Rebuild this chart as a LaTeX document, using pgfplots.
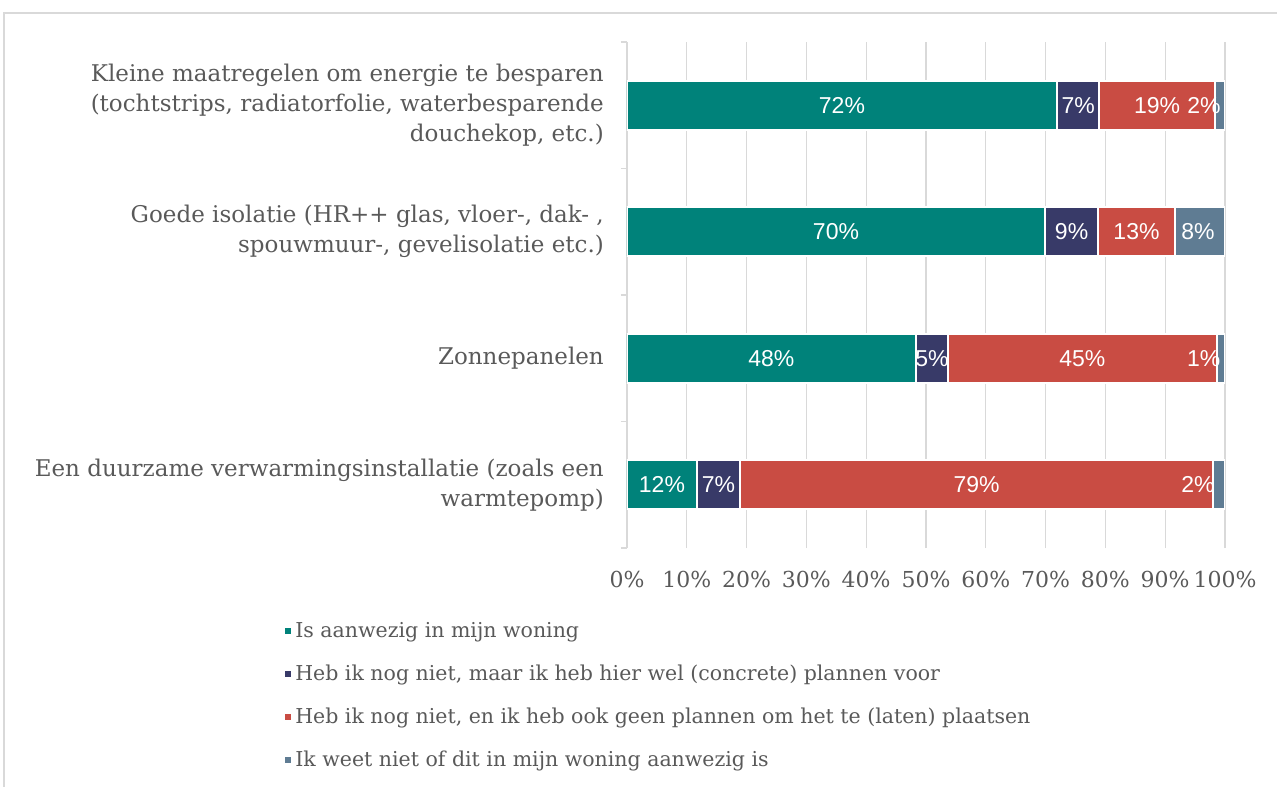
\documentclass[border=0pt]{standalone}
\usepackage{pgfplots}
\pgfplotsset{compat=1.18}
\usepackage{pgfplotstable}
\usepackage{fontspec}
\setmainfont{DejaVu Serif}
\newfontfamily\lblfont{Liberation Sans}
\definecolor{cA}{HTML}{00827A}
\definecolor{cB}{HTML}{383A68}
\definecolor{cC}{HTML}{C94C43}
\definecolor{cD}{HTML}{5F7C93}
\definecolor{txt}{HTML}{595959}
\definecolor{grd}{HTML}{D9D9D9}

\pgfplotstableread{
y a b c d sd
3 71.9 7.1 19.3 1.7 -16
2 69.9 8.9 12.8 8.4 -2
1 48.3 5.4 44.9 1.4 -17
0 11.7 7.2 79.1 2.0 -21
}\data

\begin{document}
\begin{tikzpicture}
\useasboundingbox (-627pt,-239pt) rectangle (650pt,548pt);
\begin{axis}[
  at={(0pt,0pt)}, anchor=south west,
  scale only axis, width=598pt, height=506pt,
  xbar stacked, bar width=49pt,
  xmin=0, xmax=100, ymin=-0.5, ymax=3.5,
  axis x line*=bottom, axis y line*=left,
  axis line style={-},
  x axis line style={draw=none},
  y axis line style={grd, line width=1.3pt},
  xmajorgrids=true,
  x grid style={grd, line width=1.3pt},
  xtick={0,10,...,100},
  xticklabel={\pgfmathprintnumber{\tick}\%},
  /pgf/number format/assume math mode=true,
  xticklabel style={font=\fontsize{22}{24}\selectfont, text=txt, inner sep=0pt, yshift=-23pt},
  ytick={0,1,2,3},
  yticklabels={{Een duurzame verwarmingsinstallatie (zoals een\\warmtepomp)},
               {Zonnepanelen},
               {Goede isolatie (HR++ glas, vloer-, dak- ,\\spouwmuur-, gevelisolatie etc.)},
               {Kleine maatregelen om energie te besparen\\(tochtstrips, radiatorfolie, waterbesparende\\douchekop, etc.)}},
  yticklabel style={font=\fontsize{23}{30}\selectfont, text=txt, align=right, inner sep=0pt, xshift=-23pt},
  minor ytick={-0.5,0.5,1.5,2.5,3.5},
  major tick length=0pt, minor tick length=6pt,
  tick align=outside,
  tick style={grd, line width=1.3pt},
  point meta=explicit,
  nodes near coords={\pgfmathprintnumber[fixed,precision=0]{\pgfplotspointmeta}\%},
  legend style={at={(-0.575,-0.143)}, anchor=north west, draw=none, fill=none,
    font=\fontsize{20.5}{24}\selectfont, text=txt, row sep=22pt, inner sep=0pt,
    cells={anchor=west}},
  legend image code/.code={\fill[#1] (-1.5pt,-4pt) rectangle (6.5pt,4pt);},
]
\addplot[fill=cA, draw=white, line width=2pt,
  every node near coord/.append style={font=\lblfont\fontsize{23}{26}\selectfont, text=white, anchor=center}]
  table[x=a, y=y, meta=a]{\data};
\addlegendentry{Is aanwezig in mijn woning}
\addplot[fill=cB, draw=white, line width=2pt,
  every node near coord/.append style={font=\lblfont\fontsize{23}{26}\selectfont, text=white, anchor=center}]
  table[x=b, y=y, meta=b]{\data};
\addlegendentry{Heb ik nog niet, maar ik heb hier wel (concrete) plannen voor}
\addplot[fill=cC, draw=white, line width=2pt,
  every node near coord/.append style={font=\lblfont\fontsize{23}{26}\selectfont, text=white, anchor=center}]
  table[x=c, y=y, meta=c]{\data};
\addlegendentry{Heb ik nog niet, en ik heb ook geen plannen om het te (laten) plaatsen}
\addplot[fill=cD, draw=white, line width=2pt,
  visualization depends on={\thisrow{sd} \as \sh},
  every node near coord/.append style={font=\lblfont\fontsize{23}{26}\selectfont, text=white, anchor=center, xshift={\sh pt}}]
  table[x=d, y=y, meta=d]{\data};
\addlegendentry{Ik weet niet of dit in mijn woning aanwezig is}
\end{axis}
\draw[grd, line width=1.5pt] (-623pt,-239pt) -- (-623pt,535pt) -- (650pt,535pt);
\end{tikzpicture}
\end{document}
